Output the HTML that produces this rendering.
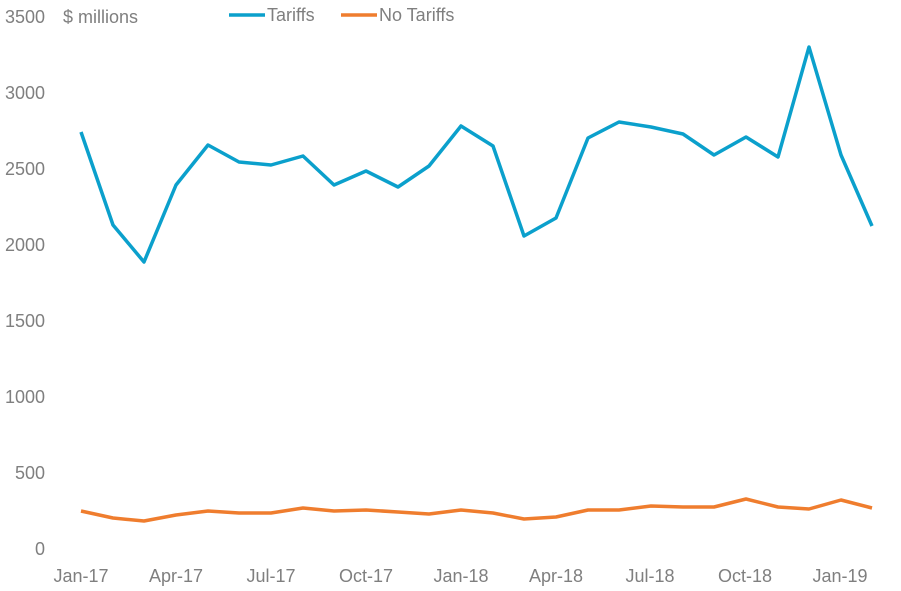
<!DOCTYPE html>
<html><head><meta charset="utf-8"><style>
html,body{margin:0;padding:0;background:#fff;}
svg{display:block;}
text{font-family:"Liberation Sans",sans-serif;fill:#7f7f7f;font-size:18px;}
</style></head><body>
<svg width="901" height="591" viewBox="0 0 901 591">
<g text-anchor="end">
<text x="45" y="23">3500</text>
<text x="45" y="99">3000</text>
<text x="45" y="175">2500</text>
<text x="45" y="251">2000</text>
<text x="45" y="327">1500</text>
<text x="45" y="403">1000</text>
<text x="45" y="479">500</text>
<text x="45" y="555">0</text>
</g>
<text x="63" y="23">$ millions</text>
<line x1="229" y1="15" x2="265" y2="15" stroke="#0ba0cc" stroke-width="3.5"/>
<text x="267" y="21">Tariffs</text>
<line x1="341" y1="15" x2="377" y2="15" stroke="#ef7d2e" stroke-width="3.5"/>
<text x="379" y="21">No Tariffs</text>
<g text-anchor="middle">
<text x="81" y="582">Jan-17</text>
<text x="176" y="582">Apr-17</text>
<text x="271" y="582">Jul-17</text>
<text x="366" y="582">Oct-17</text>
<text x="461" y="582">Jan-18</text>
<text x="556" y="582">Apr-18</text>
<text x="650" y="582">Jul-18</text>
<text x="745" y="582">Oct-18</text>
<text x="840" y="582">Jan-19</text>
</g>
<polyline fill="none" stroke="#0ba0cc" stroke-width="3.5" stroke-linejoin="round" points="81,132 113,225 144,262 176,185 208,145 239,162 271,165 303,156 334,185 366,171 398,187 429,166 461,126 493,146 524,236 556,218 588,138 619,122 651,127 683,134 714,155 746,137 778,157 809,47 841,155 872,226"/>
<polyline fill="none" stroke="#ef7d2e" stroke-width="3.5" stroke-linejoin="round" points="81,511 113,518 144,521 176,515 208,511 239,513 271,513 303,508 334,511 366,510 398,512 429,514 461,510 493,513 524,519 556,517 588,510 619,510 651,506 683,507 714,507 746,499 778,507 809,509 841,500 872,508"/>
</svg>
</body></html>
